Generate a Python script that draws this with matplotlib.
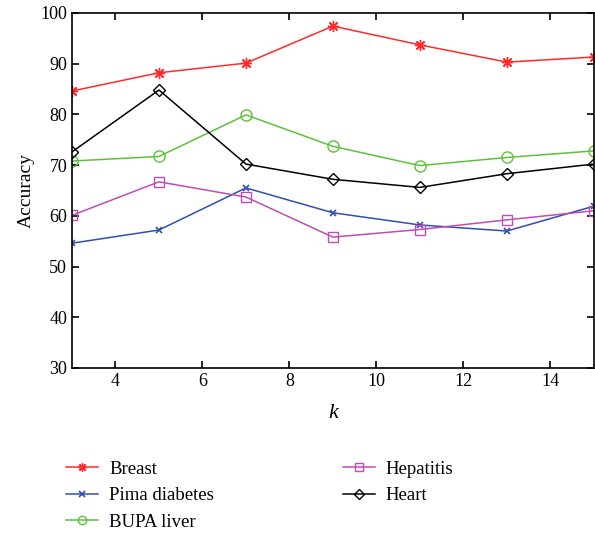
import matplotlib
matplotlib.use("Agg")
import matplotlib.pyplot as plt

k = [3, 5, 7, 9, 11, 13, 15]
breast = [84.6, 88.2, 90.1, 97.4, 93.7, 90.3, 91.3]
pima = [54.6, 57.2, 65.5, 60.6, 58.2, 57.0, 61.9]
bupa = [70.8, 71.7, 79.9, 73.7, 69.9, 71.5, 72.8]
hepatitis = [60.1, 66.7, 63.7, 55.8, 57.3, 59.2, 61.0]
heart = [72.6, 84.8, 70.2, 67.2, 65.6, 68.3, 70.2]

plt.rcParams['font.family'] = ['Liberation Serif', 'DejaVu Serif']

fig = plt.figure(figsize=(5.95, 5.38), dpi=100)
ax = fig.add_axes([0.121, 0.316, 0.877, 0.66])

lw = 1.1
ax.plot(k, breast, color='#ff2a2a', marker=(8, 2, 0), markersize=8, lw=lw, label='Breast')
ax.plot(k, pima, color='#2e4fb0', marker='x', markersize=5, mew=1.2, lw=lw, label='Pima diabetes')
ax.plot(k, bupa, color='#5cc23a', marker='o', markersize=8, mfc='none', lw=lw, label='BUPA liver')
ax.plot(k, hepatitis, color='#c04cb4', marker='s', markersize=7, mfc='none', lw=lw, label='Hepatitis')
ax.plot(k, heart, color='black', marker='D', markersize=6.5, mfc='none', lw=lw, label='Heart')

ax.set_xlim(3, 15)
ax.set_ylim(30, 100)
ax.set_xticks([4, 6, 8, 10, 12, 14])
ax.set_yticks(range(30, 101, 10))
ax.tick_params(direction='in', top=True, right=True, labelsize=13, length=5, width=1.2)
for s in ax.spines.values():
    s.set_linewidth(1.2)
ax.set_xlabel('k', fontsize=16, fontstyle='italic', labelpad=10)
ax.set_ylabel('Accuracy', fontsize=14, labelpad=4)

handles, labels = ax.get_legend_handles_labels()
fig.legend(handles, labels, ncol=2, loc='upper left', bbox_to_anchor=(0.083, 0.175),
           frameon=False, fontsize=13.5, handlelength=1.7, columnspacing=6.85,
           labelspacing=0.5, handletextpad=0.6, markerscale=0.75)

fig.savefig('out.png', dpi=100)
